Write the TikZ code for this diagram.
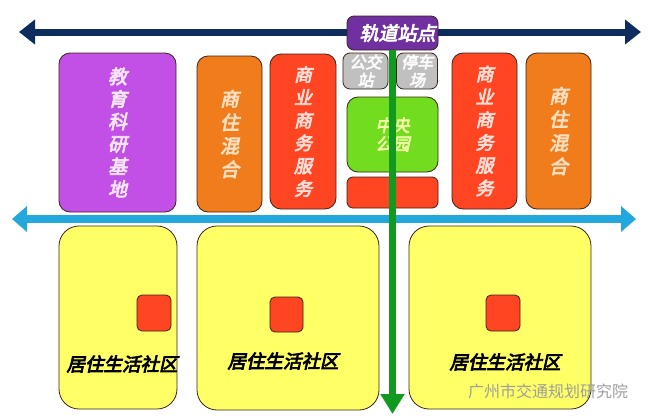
\documentclass[tikz,border=0pt]{standalone}
\usepackage{fontspec}
\usetikzlibrary{arrows.meta}
\newfontfamily\cjk[FakeSlant=0.22,FakeBold=4]{Noto Sans CJK SC}
\newfontfamily\cjkplain{Noto Sans CJK SC}
\definecolor{navyC}{HTML}{0C2D5E}
\definecolor{skyC}{HTML}{22A8DC}
\definecolor{greenC}{HTML}{129A20}
\definecolor{stationC}{HTML}{7030A0}
\definecolor{eduC}{HTML}{C24FE6}
\definecolor{orangeC}{HTML}{F07C1C}
\definecolor{redC}{HTML}{FF4522}
\definecolor{grayC}{HTML}{C0C0C0}
\definecolor{parkC}{HTML}{72DC1E}
\definecolor{yellowC}{HTML}{FFFF66}
\definecolor{edgeC}{HTML}{3A2418}
\tikzset{
  box/.style={draw=edgeC, line width=0.8pt, rounded corners=11pt, inner sep=0pt, align=center},
  vtext/.style={font=\cjk\fontsize{19}{22.5}\selectfont},
  resid/.style={box, fill=yellowC, rounded corners=20pt},
  sq/.style={box, fill=redC, rounded corners=5pt},
  lbl/.style={font=\cjk\fontsize{18.5}{20}\selectfont, text=black, inner sep=0pt},
}
\begin{document}
\begin{tikzpicture}[x=1pt,y=-1pt]
\useasboundingbox (0,0) rectangle (648,418);
% top navy arrow
\coordinate (nL) at (19,32);
\coordinate (nR) at (641,32);
\draw[navyC, line width=7pt, {Triangle[length=16pt,width=24pt]}-{Triangle[length=16pt,width=24pt]}] (nL) -- (nR);
% upper boxes
\node[box, fill=eduC, minimum width=117pt, minimum height=159pt, vtext, text=eduC!15!white] (edu) at (117.5,132.5) {教\\育\\科\\研\\基\\地};
\node[box, fill=orangeC, minimum width=65pt, minimum height=156pt, vtext, text={orange!25!white}, font=\cjk\fontsize{19}{23.5}\selectfont] (mixL) at (229.5,134) {商\\住\\混\\合};
\node[box, fill=redC, minimum width=66pt, minimum height=155pt, vtext, text=redC!18!white, font=\cjk\fontsize{18}{22.8}\selectfont] (bizL) at (303,131.5) {商\\业\\商\\务\\服\\务};
\node[box, fill=redC, minimum width=65pt, minimum height=156pt, vtext, text=redC!18!white, font=\cjk\fontsize{18}{22.8}\selectfont] (bizR) at (484.5,131) {商\\业\\商\\务\\服\\务};
\node[box, fill=orangeC, minimum width=65pt, minimum height=156pt, vtext, text={orange!25!white}, font=\cjk\fontsize{19}{23.5}\selectfont] (mixR) at (558.5,131) {商\\住\\混\\合};
\node[box, fill=grayC, rounded corners=7pt, minimum width=45pt, minimum height=36pt, text=white!96!gray, font=\cjk\fontsize{16}{18}\selectfont] (bus) at (365.5,71) {公交\\站};
\node[box, fill=grayC, rounded corners=7pt, minimum width=41pt, minimum height=36pt, text=white!96!gray, font=\cjk\fontsize{16}{18}\selectfont] (park) at (417,71) {停车\\场};
\node[box, fill=parkC, minimum width=91pt, minimum height=75pt, text={green!15!yellow!35!white}, font=\cjk\fontsize{17}{18.5}\selectfont] (cpark) at (392.5,134.5) {中央\\公园};
\node[box, fill=redC, rounded corners=6pt, minimum width=91pt, minimum height=31pt] (redbar) at (392.5,192.5) {};
% station
\node[box, fill=stationC, rounded corners=7pt, minimum width=91pt, minimum height=34pt, text=white, font=\cjk\fontsize{19}{20}\selectfont] (station) at (392.5,33) {\hspace{10pt}轨道站点};
% lower boxes
\node[resid, minimum width=118pt, minimum height=183pt] (resL) at (118,317.5) {};
\node[resid, minimum width=182pt, minimum height=184pt] (resM) at (288,318) {};
\node[resid, minimum width=182pt, minimum height=183pt] (resR) at (500,317.5) {};
\node[sq, minimum width=34pt, minimum height=36pt] (sqL) at (154,313) {};
\node[sq, minimum width=33pt, minimum height=35pt] (sqM) at (286.5,314.5) {};
\node[sq, minimum width=34pt, minimum height=36pt] (sqR) at (503,313) {};
\node[lbl] (labL) at (122,364) {居住生活社区};
\node[lbl] (labM) at (283,361) {居住生活社区};
\node[lbl] (labR) at (505,362) {居住生活社区};
% light blue arrow
\coordinate (sL) at (12,219);
\coordinate (sR) at (636,219);
\draw[skyC, line width=8pt, {Triangle[length=15pt,width=25pt]}-{Triangle[length=15pt,width=25pt]}] (sL) -- (sR);
% green arrow
\coordinate (gEnd) at (392.5,414);
\draw[greenC, line width=7pt, -{Triangle[length=20pt,width=23pt]}] (station.south) -- (gEnd);
% watermark
\node[font=\cjkplain\fontsize{16}{18}\selectfont, text=black!38, inner sep=0pt] (wm) at (548,391) {广州市交通规划研究院};
\end{tikzpicture}
\end{document}
